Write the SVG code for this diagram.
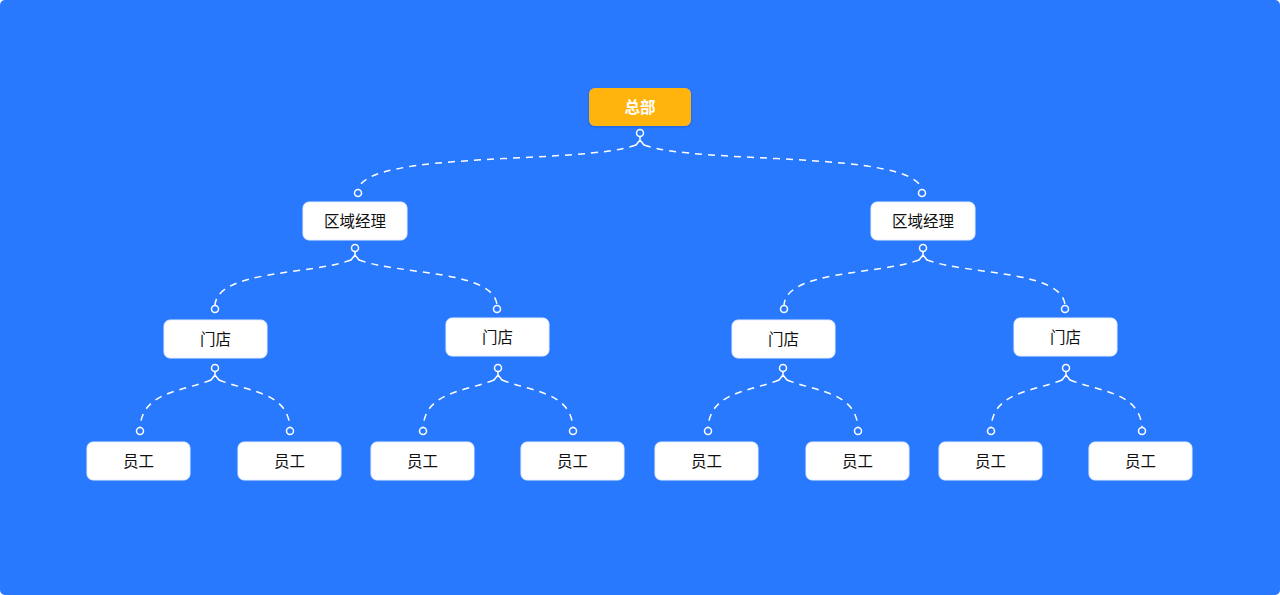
<svg xmlns="http://www.w3.org/2000/svg" width="1280" height="595" viewBox="0 0 1280 595">
<defs>
<style>
.bg{fill:#2979FF}
.box{fill:#FFFFFF;stroke:#E6EEFF;stroke-width:1}
.root{fill:#FFB30F}
.t{font-family:"Noto Sans CJK SC","Noto Sans",sans-serif;font-size:15.5px;font-weight:400;fill:#111111;text-anchor:middle;dominant-baseline:central}
.rt{fill:#FFFFFF;font-weight:600}
.c{fill:none;stroke:#FFFFFF;stroke-width:1.5;stroke-dasharray:7 6}
.m{fill:#2979FF;stroke:#FFFFFF;stroke-width:1.5}
.ml{fill:none;stroke:#FFFFFF;stroke-width:1.5;stroke-linecap:round;stroke-linejoin:round}
</style>
<filter id="sh" x="-20%" y="-30%" width="140%" height="160%">
<feDropShadow dx="0" dy="1" stdDeviation="1.5" flood-color="#0A3A99" flood-opacity="0.35"/>
</filter>
</defs>
<rect class="bg" x="0" y="0" width="1280" height="595" rx="5"/>
<g id="connectors">
<path class="c" d="M636,145 C580,165 370,150 358,189"/>
<path class="c" d="M644,145 C700,165 910,150 922,189"/>
<path class="c" d="M351,260 C310,275 218,270 215,305"/>
<path class="c" d="M359,260 C400,275 494,270 497,305"/>
<path class="c" d="M919,260 C878,275 787,270 784,305"/>
<path class="c" d="M927,260 C968,275 1062,270 1065,305"/>
<path class="c" d="M211,380 C180,392 143,392 140,427"/>
<path class="c" d="M219,380 C250,392 287,392 290,427"/>
<path class="c" d="M494,380 C463,392 426,392 423,427"/>
<path class="c" d="M502,380 C533,392 570,392 573,427"/>
<path class="c" d="M779,380 C748,392 711,392 708,427"/>
<path class="c" d="M787,380 C818,392 855,392 858,427"/>
<path class="c" d="M1062,380 C1031,392 994,392 991,427"/>
<path class="c" d="M1070,380 C1101,392 1139,392 1142,427"/>
<g id="parent-markers">
<circle class="m" cx="640" cy="133" r="3.5"/><path class="ml" d="M640,136.5 V140 M636,145 L640,140 L644,145"/>
<circle class="m" cx="355" cy="248" r="3.5"/><path class="ml" d="M355,251.5 V255 M351,260 L355,255 L359,260"/>
<circle class="m" cx="923" cy="248" r="3.5"/><path class="ml" d="M923,251.5 V255 M919,260 L923,255 L927,260"/>
<circle class="m" cx="215" cy="368" r="3.5"/><path class="ml" d="M215,371.5 V375 M211,380 L215,375 L219,380"/>
<circle class="m" cx="498" cy="368" r="3.5"/><path class="ml" d="M498,371.5 V375 M494,380 L498,375 L502,380"/>
<circle class="m" cx="783" cy="368" r="3.5"/><path class="ml" d="M783,371.5 V375 M779,380 L783,375 L787,380"/>
<circle class="m" cx="1066" cy="368" r="3.5"/><path class="ml" d="M1066,371.5 V375 M1062,380 L1066,375 L1070,380"/>
</g>
<g id="child-markers">
<circle class="m" cx="358" cy="193" r="3.5"/>
<circle class="m" cx="922" cy="193" r="3.5"/>
<circle class="m" cx="215" cy="309" r="3.5"/>
<circle class="m" cx="497" cy="309" r="3.5"/>
<circle class="m" cx="784" cy="309" r="3.5"/>
<circle class="m" cx="1065" cy="309" r="3.5"/>
<circle class="m" cx="140" cy="431" r="3.5"/>
<circle class="m" cx="290" cy="431" r="3.5"/>
<circle class="m" cx="423" cy="431" r="3.5"/>
<circle class="m" cx="573" cy="431" r="3.5"/>
<circle class="m" cx="708" cy="431" r="3.5"/>
<circle class="m" cx="858" cy="431" r="3.5"/>
<circle class="m" cx="991" cy="431" r="3.5"/>
<circle class="m" cx="1142" cy="431" r="3.5"/>
</g>
</g>
<g id="n-root"><rect class="root" x="589" y="88" width="102" height="38" rx="6" filter="url(#sh)"/><text class="t rt" x="640" y="106">总部</text></g>
<g id="n-r1"><rect class="box" x="303" y="202" width="104" height="38" rx="6"/><text class="t" x="355" y="220">区域经理</text></g>
<g id="n-r2"><rect class="box" x="871" y="202" width="104" height="38" rx="6"/><text class="t" x="923" y="220">区域经理</text></g>
<g id="n-s1"><rect class="box" x="164" y="320" width="103" height="38" rx="6"/><text class="t" x="215.5" y="338">门店</text></g>
<g id="n-s2"><rect class="box" x="446" y="318" width="103" height="38" rx="6"/><text class="t" x="497.5" y="336">门店</text></g>
<g id="n-s3"><rect class="box" x="732" y="320" width="103" height="38" rx="6"/><text class="t" x="783.5" y="338">门店</text></g>
<g id="n-s4"><rect class="box" x="1014" y="318" width="103" height="38" rx="6"/><text class="t" x="1065.5" y="336">门店</text></g>
<g id="n-e1"><rect class="box" x="87" y="442" width="103" height="38" rx="6"/><text class="t" x="138.5" y="460">员工</text></g>
<g id="n-e2"><rect class="box" x="238" y="442" width="103" height="38" rx="6"/><text class="t" x="289.5" y="460">员工</text></g>
<g id="n-e3"><rect class="box" x="371" y="442" width="103" height="38" rx="6"/><text class="t" x="422.5" y="460">员工</text></g>
<g id="n-e4"><rect class="box" x="521" y="442" width="103" height="38" rx="6"/><text class="t" x="572.5" y="460">员工</text></g>
<g id="n-e5"><rect class="box" x="655" y="442" width="103" height="38" rx="6"/><text class="t" x="706.5" y="460">员工</text></g>
<g id="n-e6"><rect class="box" x="806" y="442" width="103" height="38" rx="6"/><text class="t" x="857.5" y="460">员工</text></g>
<g id="n-e7"><rect class="box" x="939" y="442" width="103" height="38" rx="6"/><text class="t" x="990.5" y="460">员工</text></g>
<g id="n-e8"><rect class="box" x="1089" y="442" width="103" height="38" rx="6"/><text class="t" x="1140.5" y="460">员工</text></g>
</svg>
